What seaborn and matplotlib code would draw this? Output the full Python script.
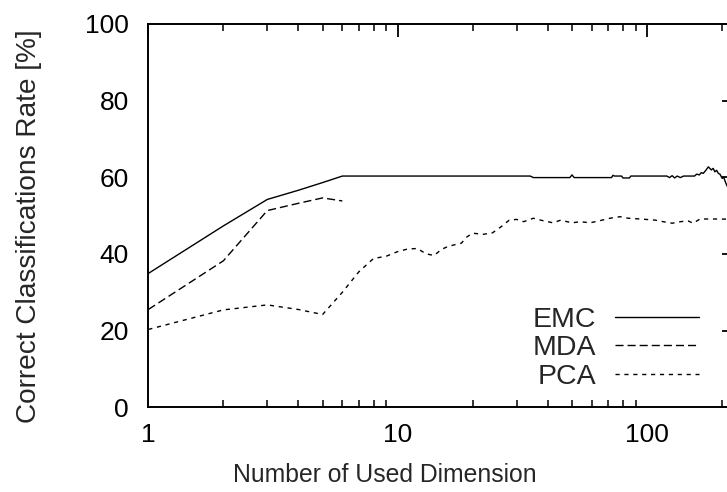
import numpy as np
import pandas as pd
import matplotlib
matplotlib.use("Agg")
import matplotlib.pyplot as plt
import seaborn as sns

# ---- data ----
emc_x = [1, 2, 3, 4, 5, 6, 34, 35, 49, 50, 51, 72, 73, 74, 79, 80, 85, 86, 120, 123,
         126, 129, 132, 136, 140, 155, 158, 162, 165, 168, 172, 176, 179, 181, 184, 187,
         190, 193, 196, 200, 203, 207, 210, 224]
emc_y = [34.9, 47.3, 54.2, 56.6, 58.6, 60.3, 60.3, 59.9, 59.9, 60.6, 59.9, 59.9, 60.5, 60.3,
         60.3, 59.8, 59.8, 60.3, 60.3, 59.9, 60.4, 59.8, 60.3, 59.9, 60.3, 60.3, 60.8, 60.6,
         61.2, 61.0, 61.8, 62.7, 62.2, 61.9, 62.3, 61.4, 61.8, 61.0, 60.8, 59.7, 59.9, 58.4,
         57.5, 56.5]

mda_x = [1, 2, 3, 4, 5, 6]
mda_y = [25.5, 38.2, 51.3, 53.2, 54.6, 53.8]

pca_x = [1, 2, 3, 4, 5, 6, 7, 8, 9, 10, 11, 12, 13, 14, 15, 16, 18, 19, 20, 22, 24, 26,
         28, 30, 32, 35, 38, 42, 45, 50, 54, 59, 65, 71, 78, 84, 94, 108, 116, 126, 136,
         146, 153, 163, 182, 196, 224]
pca_y = [20.3, 25.4, 26.7, 25.5, 24.2, 30.0, 35.4, 38.8, 39.4, 40.6, 41.3, 41.4, 40.0, 39.6,
         41.2, 42.0, 42.8, 44.5, 45.4, 45.1, 45.5, 47.1, 48.8, 49.0, 48.4, 49.3, 48.7, 48.1,
         48.8, 48.1, 48.4, 48.1, 48.7, 49.3, 49.7, 49.3, 49.1, 48.8, 48.4, 48.0, 48.4, 48.6,
         48.0, 49.1, 49.1, 49.1, 49.0]

series_names = ["EMC", "MDA", "PCA"]
y_ticks = [0, 20, 40, 60, 80, 100]
x_ticks = [1, 10, 100]
x_tick_labels = ["1", "10", "100"]
x_label = "Number of Used Dimension"
y_label = "Correct Classifications Rate [%]"

# ---- style ----
sns.set_style("white")
plt.rcParams["font.family"] = ["Liberation Sans", "DejaVu Sans"]
plt.rcParams["lines.scale_dashes"] = False

W, H = 727, 492
fig = plt.figure(figsize=(W / 100, H / 100), dpi=100)
left, right, top, bottom = 148.3, 734.7, 23.8, 407.3
ax = fig.add_axes([left / W, 1 - bottom / H, (right - left) / W, (bottom - top) / H])

styles = {
    "EMC": "-",
    "MDA": (0, (5.8, 2.9)),
    "PCA": (0, (3.0, 3.4)),
}
data = {"EMC": (emc_x, emc_y), "MDA": (mda_x, mda_y), "PCA": (pca_x, pca_y)}
for name in series_names:
    xs, ys = data[name]
    df = pd.DataFrame({"x": xs, "y": ys})
    sns.lineplot(data=df, x="x", y="y", ax=ax, color="black", linewidth=1.0,
                 linestyle=styles[name], label=name, legend=False)

ax.set_xscale("log")
ax.set_xlim(1, 10 ** ((right - left) / 249.4))
ax.set_ylim(0, 100)
ax.set_yticks(y_ticks)
ax.set_xticks(x_ticks)
ax.set_xticklabels(x_tick_labels)

fs = 19.0
ax.tick_params(axis="both", which="major", direction="in", length=9.4, width=1.3,
               top=True, right=True, labelsize=fs, colors="black")
ax.tick_params(axis="x", which="major", pad=11.0)
ax.tick_params(axis="y", which="major", pad=14.0)
ax.tick_params(axis="x", which="minor", direction="in", length=4.8, width=1.3,
               top=True, bottom=True)
for s in ax.spines.values():
    s.set_linewidth(1.4)
    s.set_color("black")

ax.set_xlabel(x_label, fontsize=17.8)
ax.set_ylabel(y_label, fontsize=20.2)
ax.xaxis.set_label_coords((385 - left) / (right - left), (bottom - 463.5) / (bottom - top))
ax.yaxis.set_label_coords((42 - left) / (right - left), (bottom - 226.5) / (bottom - top))
ax.xaxis.label.set_va("top")

lfs = 20.5
handles, labels = ax.get_legend_handles_labels()
leg = ax.legend(handles, labels, loc="center right",
                bbox_to_anchor=(699.3 / W, 1 - 348.3 / H), bbox_transform=fig.transFigure,
                frameon=False, markerfirst=False, fontsize=lfs, borderpad=0,
                borderaxespad=0, handlelength=84 / (lfs * 100 / 72),
                handletextpad=19 / (lfs * 100 / 72), labelspacing=0.09)
for col in leg._legend_handle_box.get_children():
    col.align = "right"

fig.savefig("out.png", dpi=100)
